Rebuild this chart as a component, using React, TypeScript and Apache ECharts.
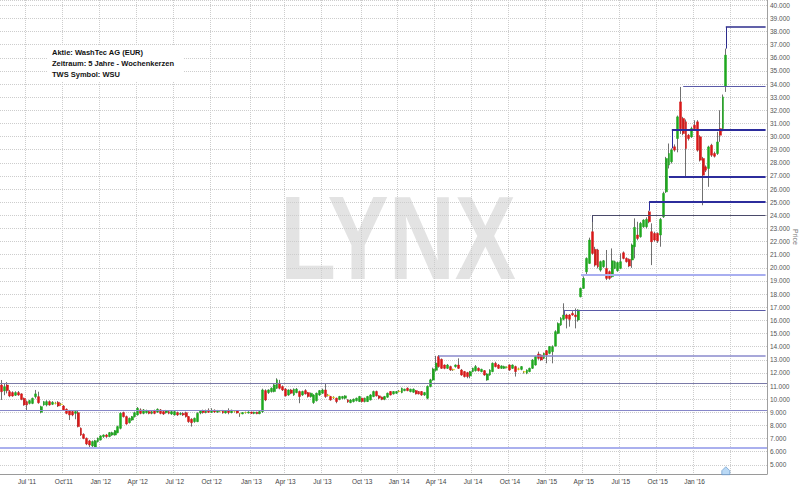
import React, { useEffect, useRef } from "react";
import * as echarts from "echarts";

const START_UTC = Date.UTC(2011, 4, 2);
const TOTAL_WEEKS = 270;

const opens = [
  11.08, 10.63, 11.08, 10.57, 10.50, 10.30, 10.50, 10.40, 10.06, 9.81,
  9.68, 9.68, 10.19, 10.19, 9.00, 9.56, 9.56, 9.81, 9.61, 9.70,
  9.76, 9.63, 9.48, 9.23, 9.13, 9.05, 8.92, 8.97, 7.78, 7.32,
  7.02, 6.82, 6.44, 6.34, 6.77, 6.89, 7.15, 7.27, 7.15, 7.27,
  7.27, 7.45, 7.78, 8.97, 8.67, 8.21, 8.41, 8.67, 8.80, 9.18,
  8.92, 8.97, 9.05, 8.92, 9.13, 9.02, 9.18, 9.05, 8.97, 9.05,
  8.87, 8.80, 8.97, 8.85, 8.92, 8.97, 8.67, 8.47, 8.29, 8.29,
  8.95, 9.10, 8.98, 9.15, 9.00, 9.15, 9.02, 9.08, 9.12, 8.95,
  9.10, 8.98, 9.05, 9.10, 8.90, 8.88, 8.98, 8.95, 9.02, 8.92,
  9.00, 8.90, 9.05, 10.65, 10.50, 10.58, 10.58, 10.83, 11.21, 10.96,
  10.76, 10.32, 10.70, 10.32, 10.50, 10.58, 10.32, 10.65, 10.50, 10.20,
  9.74, 9.89, 10.32, 10.45, 10.70, 10.32, 10.20, 10.15, 10.07, 9.99,
  10.07, 10.07, 9.94, 9.74, 9.82, 9.89, 9.82, 10.07, 9.82, 9.82,
  9.94, 10.20, 10.58, 10.25, 10.15, 9.99, 10.15, 10.58, 10.40, 10.45,
  10.62, 10.50, 10.65, 10.83, 10.58, 10.53, 10.65, 10.58, 10.58, 10.32,
  10.07, 10.96, 11.46, 12.20, 13.24, 13.03, 12.60, 12.35, 12.48, 12.27,
  12.48, 12.60, 12.22, 12.10, 12.02, 11.77, 12.10, 12.17, 12.35, 12.10,
  12.17, 11.46, 11.84, 12.10, 12.73, 12.60, 12.35, 12.35, 12.43, 12.60,
  12.35, 12.48, 12.31, 12.27, 12.10, 11.97, 12.10, 12.35, 12.60, 13.44,
  13.36, 13.11, 13.69, 13.49, 13.62, 14.05, 15.01, 15.65, 16.08, 16.41,
  16.41, 16.53, 16.41, 16.03, 17.80, 18.44, 19.70, 20.34, 22.75, 21.41,
  21.36, 19.83, 20.09, 19.96, 19.71, 19.33, 19.96, 19.78, 19.96, 21.15,
  20.72, 20.65, 20.60, 21.61, 22.50, 22.37, 23.13, 23.13, 24.27, 22.75,
  22.62, 22.62, 22.50, 23.89, 25.79, 27.83, 28.08, 29.22, 29.85, 32.64,
  31.38, 31.12, 30.10, 29.98, 30.86, 31.12, 29.98, 28.33, 27.69, 27.57,
  29.34, 28.71, 28.71, 30.61, 30.61, 33.84,
];

const closes = [
  10.57, 10.95, 10.65, 10.24, 10.24, 10.50, 10.32, 9.99, 9.56, 9.56,
  9.89, 10.06, 10.40, 9.73, 9.43, 9.81, 9.81, 9.56, 9.76, 9.68,
  9.48, 9.60, 9.18, 8.92, 8.80, 8.80, 9.05, 7.91, 7.27, 7.02,
  6.59, 6.51, 6.77, 6.84, 7.02, 7.20, 7.27, 7.15, 7.45, 7.45,
  7.60, 7.91, 8.92, 8.67, 8.11, 8.54, 8.67, 8.97, 9.30, 8.92,
  9.18, 9.13, 8.92, 9.05, 8.92, 9.23, 8.92, 8.87, 9.10, 8.92,
  9.05, 9.05, 8.80, 8.92, 8.80, 8.67, 8.29, 8.21, 8.54, 8.92,
  9.10, 8.98, 9.12, 9.00, 9.15, 9.02, 9.12, 9.08, 8.95, 9.10,
  8.98, 9.15, 9.05, 8.95, 8.88, 8.98, 8.98, 9.02, 8.92, 9.00,
  8.90, 9.05, 10.70, 9.94, 10.70, 10.83, 11.09, 11.47, 10.83, 10.70,
  10.25, 10.70, 10.45, 10.76, 10.76, 10.20, 10.58, 10.40, 10.20, 10.45,
  10.32, 10.45, 10.65, 10.70, 10.20, 10.28, 9.94, 10.10, 9.82, 10.20,
  10.20, 10.25, 9.79, 9.94, 9.99, 10.07, 10.20, 9.82, 10.07, 10.20,
  10.32, 10.58, 10.25, 10.07, 9.99, 10.20, 10.45, 10.32, 10.58, 10.58,
  10.58, 10.83, 10.76, 10.65, 10.76, 10.76, 10.40, 10.40, 10.32, 10.50,
  10.96, 11.47, 12.30, 12.75, 12.48, 12.35, 12.35, 12.60, 12.22, 12.22,
  12.60, 12.35, 11.84, 11.72, 11.72, 12.10, 12.35, 12.48, 12.17, 12.27,
  11.84, 11.92, 12.22, 12.73, 12.48, 12.35, 12.53, 12.48, 12.43, 12.22,
  12.60, 12.10, 12.27, 12.48, 12.06, 12.22, 12.35, 12.98, 13.24, 13.11,
  12.98, 13.49, 13.36, 14.00, 14.00, 15.14, 15.77, 16.15, 16.41, 16.15,
  16.08, 16.41, 16.28, 16.79, 18.44, 19.20, 20.72, 22.12, 21.10, 20.21,
  20.09, 20.47, 20.54, 19.20, 19.20, 20.54, 20.47, 20.40, 20.47, 20.72,
  20.47, 20.14, 21.74, 23.08, 22.24, 23.39, 23.64, 23.69, 23.51, 21.99,
  22.12, 22.06, 23.69, 25.67, 28.33, 28.71, 28.97, 28.97, 31.50, 30.60,
  30.23, 29.09, 29.85, 30.61, 30.61, 28.96, 28.20, 27.06, 27.44, 29.21,
  28.58, 28.50, 29.59, 30.10, 33.02, 36.20,
];

const lows = [
  9.94, 10.30, 10.44, 10.15, 10.18, 10.24, 10.25, 9.92, 9.50, 9.13,
  9.60, 9.62, 10.05, 9.65, 8.92, 9.50, 9.45, 9.50, 9.55, 9.60,
  9.40, 9.50, 9.10, 8.85, 8.41, 8.70, 8.47, 7.85, 7.20, 6.95,
  6.50, 6.21, 6.30, 6.28, 6.70, 6.85, 7.05, 7.05, 7.10, 7.20,
  7.22, 7.40, 7.70, 8.60, 8.05, 8.15, 8.35, 8.60, 8.75, 8.85,
  8.85, 8.90, 8.85, 8.85, 8.85, 8.95, 8.85, 8.80, 8.90, 8.85,
  8.80, 8.75, 8.72, 8.78, 8.72, 8.60, 8.20, 7.91, 8.20, 8.25,
  8.85, 8.90, 8.92, 8.95, 8.95, 8.95, 8.95, 9.00, 8.90, 8.90,
  8.85, 8.92, 8.98, 8.90, 8.65, 8.85, 8.90, 8.90, 8.88, 8.85,
  8.85, 8.85, 8.95, 9.85, 10.40, 10.50, 10.52, 10.78, 10.75, 10.62,
  10.20, 10.25, 10.38, 10.25, 10.45, 9.69, 10.25, 10.35, 10.12, 10.12,
  9.64, 9.82, 10.25, 10.40, 10.10, 10.20, 9.88, 10.00, 9.69, 9.92,
  10.00, 10.00, 9.72, 9.69, 9.75, 9.82, 9.78, 9.75, 9.75, 9.78,
  9.90, 10.15, 10.20, 10.00, 9.92, 9.92, 10.10, 10.28, 10.35, 10.40,
  10.52, 10.45, 10.60, 10.60, 10.52, 10.48, 10.35, 10.35, 10.25, 10.25,
  9.99, 10.90, 11.40, 12.10, 12.40, 12.30, 12.28, 12.30, 12.15, 12.15,
  12.40, 12.30, 11.78, 11.65, 11.59, 11.59, 12.05, 12.10, 12.10, 12.05,
  11.78, 11.40, 11.78, 12.05, 12.42, 12.30, 12.30, 12.30, 12.35, 12.15,
  12.30, 11.72, 12.20, 12.20, 11.95, 11.90, 12.05, 12.30, 12.55, 13.00,
  12.90, 13.05, 12.73, 13.42, 12.73, 14.00, 14.95, 15.58, 16.00, 15.39,
  15.52, 16.35, 15.39, 15.90, 17.75, 18.40, 19.45, 20.30, 21.00, 20.09,
  19.96, 19.71, 20.00, 19.07, 19.10, 19.25, 19.90, 19.70, 19.90, 20.65,
  20.40, 20.05, 20.00, 20.72, 22.10, 22.30, 23.05, 23.00, 23.40, 20.21,
  22.00, 21.90, 21.61, 23.80, 25.70, 27.57, 27.95, 28.85, 28.80, 30.20,
  30.10, 26.93, 29.70, 29.90, 30.50, 28.85, 28.10, 24.77, 27.30, 26.17,
  28.45, 28.40, 28.60, 29.60, 30.40, 33.40,
];

const highs = [
  11.46, 11.21, 11.30, 10.70, 10.60, 10.60, 10.62, 10.45, 10.12, 9.90,
  9.95, 10.12, 10.70, 10.57, 9.50, 9.85, 9.92, 9.90, 9.85, 9.80,
  9.85, 9.72, 9.55, 9.30, 9.18, 9.12, 9.15, 9.10, 7.85, 7.40,
  7.08, 6.90, 6.85, 6.90, 7.08, 7.25, 7.32, 7.35, 7.50, 7.52,
  7.65, 7.98, 9.00, 9.05, 8.75, 8.60, 8.72, 9.05, 9.40, 9.30,
  9.25, 9.20, 9.15, 9.12, 9.20, 9.30, 9.25, 9.12, 9.18, 9.12,
  9.12, 9.15, 9.05, 9.00, 9.00, 9.05, 8.72, 8.55, 8.60, 9.00,
  9.15, 9.20, 9.20, 9.30, 9.31, 9.22, 9.18, 9.15, 9.18, 9.15,
  9.30, 9.20, 9.12, 9.15, 8.95, 9.02, 9.05, 9.08, 9.05, 9.05,
  9.05, 9.10, 10.80, 10.75, 10.75, 10.90, 11.15, 11.59, 11.47, 11.05,
  10.85, 10.75, 10.78, 10.82, 10.85, 10.65, 10.65, 10.76, 10.55, 10.50,
  10.38, 10.50, 10.70, 10.80, 11.21, 10.40, 10.25, 10.22, 10.12, 10.25,
  10.25, 10.30, 10.00, 10.00, 10.05, 10.12, 10.25, 10.12, 10.12, 10.25,
  10.38, 10.65, 10.65, 10.30, 10.20, 10.25, 10.50, 10.62, 10.62, 10.62,
  10.70, 10.88, 10.80, 10.90, 10.80, 10.82, 10.70, 10.62, 10.62, 10.55,
  11.05, 11.55, 12.40, 13.30, 13.36, 13.10, 12.65, 12.68, 12.55, 12.32,
  12.65, 13.11, 12.30, 12.15, 12.08, 12.15, 12.40, 12.60, 12.42, 12.32,
  12.22, 11.98, 12.28, 12.80, 12.85, 12.68, 12.58, 12.55, 12.50, 12.65,
  12.65, 12.55, 12.40, 12.52, 12.15, 12.27, 12.40, 13.05, 13.30, 13.62,
  13.42, 13.55, 13.75, 14.05, 14.10, 15.25, 15.85, 16.25, 17.30, 16.50,
  16.48, 16.70, 16.91, 16.85, 18.50, 19.35, 20.80, 22.30, 24.02, 21.60,
  21.45, 20.55, 20.60, 21.36, 19.80, 21.48, 20.55, 20.48, 21.10, 21.25,
  20.80, 20.72, 21.85, 23.77, 23.51, 23.50, 23.70, 23.85, 24.35, 23.39,
  22.75, 22.70, 23.80, 25.80, 28.45, 29.47, 29.10, 29.40, 31.60, 33.78,
  31.50, 31.30, 30.20, 30.75, 31.24, 31.25, 30.10, 28.45, 27.80, 29.30,
  29.45, 28.85, 30.36, 32.00, 33.20, 36.70,
];

const quarterLabels = [
  "Jul '11", "Oct'11", "Jan '12", "Apr '12", "Jul '12", "Oct '12", "Jan '13",
  "Apr '13", "Jul '13", "Oct '13", "Jan '14", "Apr '14", "Jul '14", "Oct '14",
  "Jan '15", "Apr '15", "Jul '15", "Oct '15", "Jan '16",
];

// horizontal support / resistance levels
const fullLevels = [11.22, 9.15, 6.27];
const levelValues = [38.35, 33.84, 30.55, 26.97, 25.03, 24.01, 19.45, 16.8, 13.29];
const levelStartWeeks = [255, 240, 236, 235, 228, 208, 204, 198, 154];
const levelStubEnds = [36.7, null, 29.1, null, 24.35, 23.5, null, 16.41, 13.1];

const markerWeeks = [255];
const markerValues = [4.55];

const infoLines = [
  "Aktie: WashTec AG (EUR)",
  "Zeitraum: 5 Jahre - Wochenkerzen",
  "TWS Symbol: WSU",
];

// styles (not data)
const fullLevelStyles = [
  { color: "#7a7aa8", width: 1.2 },
  { color: "#8686c8", width: 1.2 },
  { color: "#aab0ee", width: 2 },
];
const levelStyles = [
  { color: "#2c2c8c", width: 1.5 },
  { color: "#5a5aa8", width: 1 },
  { color: "#2c2c9c", width: 2 },
  { color: "#2c2c9c", width: 2 },
  { color: "#2c2c9c", width: 2 },
  { color: "#4a4a6a", width: 1 },
  { color: "#a8aef0", width: 2 },
  { color: "#5a5aa8", width: 1 },
  { color: "#8a8acc", width: 1.5 },
];

const UP = "#1fa81f";
const DOWN = "#d81818";
const DOJI = "#e4d400";
const WICK = "#707070";

export default function App() {
  const ref = useRef<HTMLDivElement>(null);

  useEffect(() => {
    if (!ref.current) return;
    const chart = echarts.init(ref.current, undefined, { renderer: "svg" });

    const weekDates = Array.from(
      { length: TOTAL_WEEKS },
      (_, i) => new Date(START_UTC + i * 7 * 86400000)
    );
    const categories = weekDates.map((d) => d.toISOString().slice(0, 10));
    const tickIdx: number[] = [];
    weekDates.forEach((d, i) => {
      if (d.getUTCMonth() % 3 === 0 && d.getUTCDate() <= 7) tickIdx.push(i);
    });
    const tickSet = new Set(tickIdx);
    const labelFor = new Map<number, string>();
    tickIdx.forEach((idx, k) => labelFor.set(idx, quarterLabels[k] ?? ""));

    const wickData = opens.map((o, i) => [o, closes[i], lows[i], highs[i]]);
    const bodyData = opens.map((o, i) => {
      const c = closes[i];
      const item: any = { value: [o, c, Math.min(o, c), Math.max(o, c)] };
      if (Math.abs(c - o) <= 0.055) {
        item.itemStyle = {
          color: DOJI,
          color0: DOJI,
          borderColor: DOJI,
          borderColor0: DOJI,
        };
      }
      return item;
    });

    const lastIdx = TOTAL_WEEKS - 1;
    const markLineData: any[] = [];
    fullLevels.forEach((v, k) => {
      markLineData.push({ yAxis: v, lineStyle: { ...fullLevelStyles[k], type: "solid" } });
    });
    levelValues.forEach((v, k) => {
      const s = levelStartWeeks[k];
      markLineData.push([
        { coord: [s, v], lineStyle: { ...levelStyles[k], type: "solid" } },
        { coord: [lastIdx, v] },
      ]);
      const stub = levelStubEnds[k];
      if (stub !== null) {
        markLineData.push([
          { coord: [s, v], lineStyle: { color: levelStyles[k].color, width: 1, type: "solid" } },
          { coord: [s, stub] },
        ]);
      }
    });

    const font = '"Liberation Sans", Arial, sans-serif';

    chart.setOption({
      animation: false,
      backgroundColor: "#ffffff",
      grid: {
        left: 0,
        right: 33,
        top: 0,
        bottom: 12,
        containLabel: false,
        outerBoundsMode: "none",
      },
      xAxis: {
        type: "category",
        data: categories,
        boundaryGap: true,
        axisLine: { show: true, lineStyle: { color: "#9a9a9a", width: 1 } },
        axisTick: { show: false },
        axisLabel: {
          interval: (i: number) => tickSet.has(i),
          formatter: (_v: string, i: number) => labelFor.get(i) ?? "",
          fontSize: 6.5,
          color: "#444",
          margin: 4,
          fontFamily: font,
          hideOverlap: false,
        },
        splitLine: {
          show: true,
          interval: (i: number) => tickSet.has(i),
          lineStyle: { color: "#cdcdcd", type: "dotted", width: 1 },
        },
      },
      yAxis: {
        type: "value",
        position: "right",
        min: 4.3,
        max: 40.4,
        splitNumber: 36,
        scale: true,
        axisLine: { show: true, lineStyle: { color: "#a0a0a0", width: 1 } },
        axisTick: { show: false },
        axisLabel: {
          fontSize: 6.5,
          color: "#555",
          margin: 3,
          fontFamily: font,
          formatter: (v: number) =>
            Math.abs(v - Math.round(v)) < 1e-6 ? Math.round(v).toFixed(3) : "",
        },
        splitLine: { show: true, lineStyle: { color: "#cdcdcd", type: "dotted", width: 1 } },
        name: "Price",
        nameLocation: "middle",
        nameGap: 25,
        nameMoveOverlap: false,
        nameRotate: -90,
        nameTextStyle: { fontSize: 7, color: "#777", fontFamily: font },
      },
      graphic: [
        {
          type: "text",
          x: 398,
          y: 238,
          scaleX: 0.77,
          z: -5,
          silent: true,
          style: {
            text: "LYNX",
            fill: "#e3e3e3",
            font: 'bold 119px "Liberation Sans", Arial, sans-serif',
            textAlign: "center",
            textVerticalAlign: "middle",
            align: "center",
            verticalAlign: "middle",
          },
        },
        {
          type: "rect",
          z: 1,
          silent: true,
          shape: { x: 48, y: 45, width: 135, height: 36 },
          style: { fill: "#ffffff" },
        },
        ...infoLines.map((t, k) => ({
          type: "text",
          x: 52,
          y: 52 + k * 11.3,
          z: 2,
          silent: true,
          style: {
            text: t,
            fill: "#111111",
            font: 'bold 7.5px "Liberation Sans", Arial, sans-serif',
            textAlign: "left",
            textVerticalAlign: "middle",
            align: "left",
            verticalAlign: "middle",
          },
        })),
      ],
      series: [
        {
          type: "candlestick",
          name: "wick",
          data: wickData,
          barWidth: 1,
          silent: true,
          itemStyle: {
            color: WICK,
            color0: WICK,
            borderColor: WICK,
            borderColor0: WICK,
            borderWidth: 1,
          },
        },
        {
          type: "candlestick",
          name: "body",
          data: bodyData,
          barWidth: 2.4,
          silent: true,
          itemStyle: {
            color: UP,
            color0: DOWN,
            borderColor: UP,
            borderColor0: DOWN,
            borderWidth: 0.5,
          },
        },
        {
          type: "scatter",
          name: "marker",
          data: markerWeeks.map((w, k) => [w, markerValues[k]]),
          symbol: "path://M5,0 L10,5 L10,10 L0,10 L0,5 Z",
          symbolSize: [8, 8],
          silent: true,
          itemStyle: { color: "#a9d0f2", borderColor: "#5b8fc7", borderWidth: 0.8 },
          markLine: {
            silent: true,
            symbol: ["none", "none"],
            label: { show: false },
            data: markLineData,
          },
        },
      ],
    });

    return () => chart.dispose();
  }, []);

  return (
    <div
      ref={ref}
      style={{ position: "fixed", left: 0, top: 0, width: 800, height: 486 }}
    />
  );
}
